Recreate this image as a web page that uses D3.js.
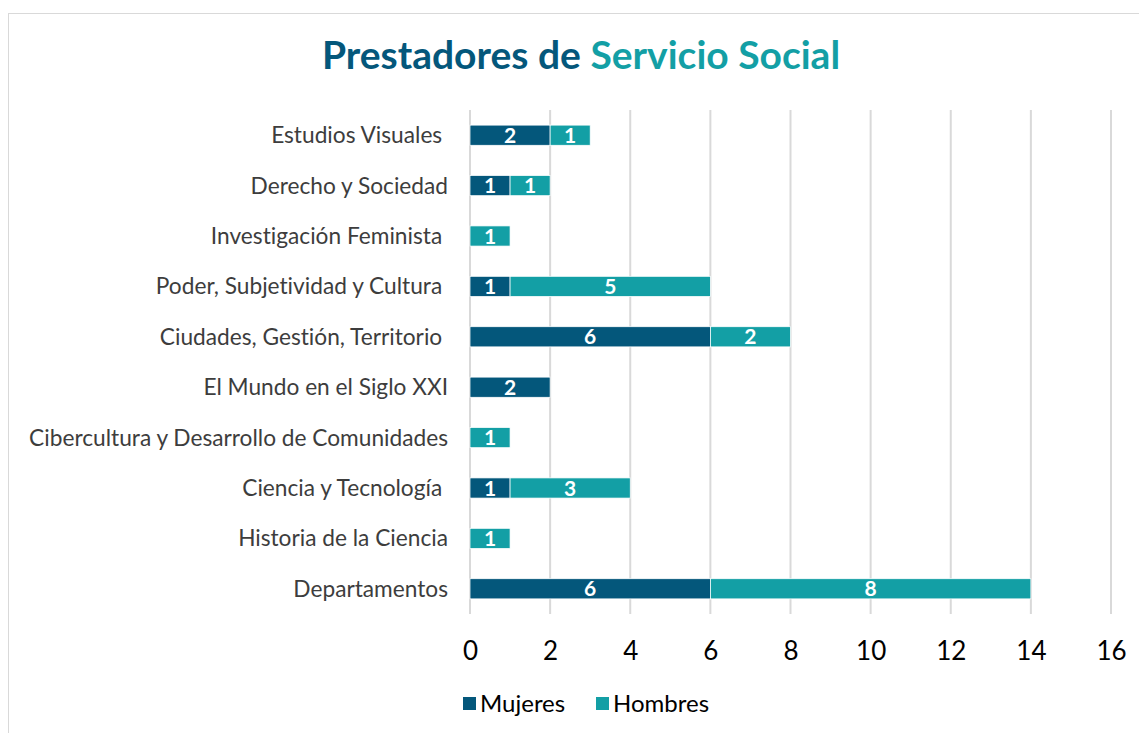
<!DOCTYPE html>
<html>
<head>
<meta charset="utf-8">
<title>Prestadores de Servicio Social</title>
<script src="https://d3js.org/d3.v7.min.js"></script>
<style>
  body { margin: 0; background: #fff; }
  svg text { font-family: Lato, "Open Sans", sans-serif; font-variant-ligatures: none; }
</style>
</head>
<body>
<svg id="chart"></svg>
<script>
// data
const categories = ["Estudios Visuales ", "Derecho y Sociedad", "Investigación Feminista ",
  "Poder, Subjetividad y Cultura ", "Ciudades, Gestión, Territorio ", "El Mundo en el Siglo XXI",
  "Cibercultura y Desarrollo de Comunidades", "Ciencia y Tecnología ", "Historia de la Ciencia",
  "Departamentos"];
const mujeres = [2, 1, 0, 1, 6, 2, 0, 1, 0, 6];
const hombres = [1, 1, 1, 5, 2, 0, 1, 3, 1, 8];
const seriesNames = ["Mujeres", "Hombres"];
const xTicks = [0, 2, 4, 6, 8, 10, 12, 14, 16];

const W = 1139, H = 733;
const dark = '#04577b', teal = '#139fa5';
const colors = [dark, teal];

const svg = d3.select('#chart').attr('width', W).attr('height', H);

// chart frame
svg.append('rect')
  .attr('x', 8.5).attr('y', 13.5)
  .attr('width', W + 20).attr('height', H + 20)
  .style('fill', 'none').style('stroke', '#d9d9d9');

// title
const title = svg.append('text')
  .attr('x', 581).attr('y', 69)
  .attr('text-anchor', 'middle')
  .style('font-size', '39px').style('font-weight', 'bold');
title.append('tspan').text('Prestadores de ').style('fill', dark);
title.append('tspan').text('Servicio Social').style('fill', teal);

const x = d3.scaleLinear().domain([0, 16]).range([470, 1111]);
const y = d3.scaleBand().domain(categories).range([110, 614]).paddingInner(0.6).paddingOuter(0.3);

// gridlines
svg.append('g').selectAll('line').data(xTicks).join('line')
  .attr('x1', d => x(d)).attr('x2', d => x(d))
  .attr('y1', 110).attr('y2', 614)
  .style('stroke', '#d9d9d9').style('stroke-width', 2);

// x axis labels
const xAxis = svg.append('g').attr('transform', 'translate(0,660)')
  .call(d3.axisBottom(x).tickValues(xTicks).tickSize(0).tickPadding(0));
xAxis.select('.domain').remove();
xAxis.selectAll('text').attr('dy', 0).style('font-size', '26px').style('fill', '#000');

// category labels
svg.append('g').selectAll('text').data(categories).join('text')
  .attr('x', 448)
  .attr('y', d => y(d) + y.bandwidth() / 2)
  .attr('dy', '0.35em')
  .attr('text-anchor', 'end')
  .style('white-space', 'pre')
  .style('font-size', '22.7px').style('fill', '#3d3d3d')
  .text(d => d);

// stacked bars
const rows = categories.map((c, i) => ({ cat: c, Mujeres: mujeres[i], Hombres: hombres[i] }));
const stacked = d3.stack().keys(seriesNames)(rows);

stacked.forEach((layer, li) => {
  const g = svg.append('g');
  const segs = layer.filter(d => d[1] - d[0] > 0);
  g.selectAll('rect').data(segs).join('rect')
    .attr('x', d => x(d[0]))
    .attr('y', d => y(d.data.cat))
    .attr('width', d => x(d[1]) - x(d[0]))
    .attr('height', y.bandwidth())
    .style('fill', colors[li])
    .style('stroke', '#fff').style('stroke-width', 0.75);
  g.selectAll('text').data(segs).join('text')
    .attr('x', d => (x(d[0]) + x(d[1])) / 2)
    .attr('y', d => y(d.data.cat) + y.bandwidth() / 2)
    .attr('dy', '0.36em')
    .attr('text-anchor', 'middle')
    .style('font-size', '21px').style('font-weight', 'bold').style('fill', '#fff')
    .text(d => d[1] - d[0]);
});

// legend
const legend = svg.append('g').attr('transform', 'translate(463,704)');
const items = legend.selectAll('g').data(seriesNames).join('g')
  .attr('transform', (d, i) => `translate(${i * 133},0)`);
items.append('rect')
  .attr('x', 0).attr('y', -7).attr('width', 13).attr('height', 13)
  .style('fill', (d, i) => colors[i]);
items.append('text')
  .attr('x', 17).attr('y', 0).attr('dy', '0.35em')
  .style('font-size', '24px').style('fill', '#000')
  .text(d => d);
</script>
</body>
</html>
